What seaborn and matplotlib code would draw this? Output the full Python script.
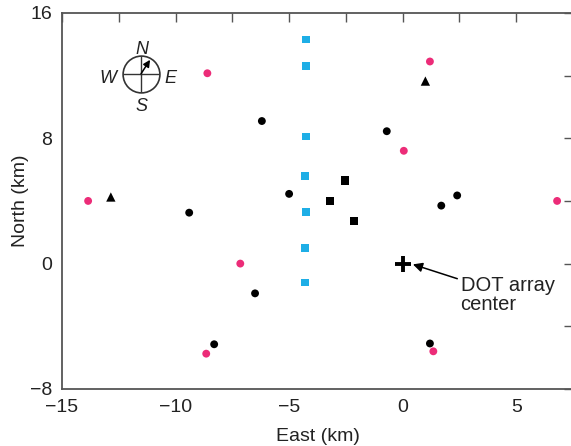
import numpy as np
import matplotlib
matplotlib.use("Agg")
import matplotlib.pyplot as plt
import seaborn as sns

# station positions (East, North) in km
cyan_x = [-4.25, -4.25, -4.25, -4.3, -4.25, -4.3, -4.3]
cyan_y = [14.3, 12.6, 8.1, 5.6, 3.3, 1.0, -1.2]

sq_x = [-2.55, -3.2, -2.15]
sq_y = [5.3, 4.0, 2.7]

tri_x = [1.0, -12.85]
tri_y = [11.65, 4.25]

pink_x = [-8.6, 1.2, 0.05, -13.85, 6.8, -7.15, -8.65, 1.35]
pink_y = [12.15, 12.9, 7.2, 4.0, 4.0, 0.0, -5.75, -5.6]

dot_x = [-6.2, -0.7, -5.0, -9.4, 1.7, 2.4, -6.5, -8.3, 1.2]
dot_y = [9.1, 8.45, 4.45, 3.25, 3.7, 4.35, -1.9, -5.15, -5.1]

center_x = [0.0]
center_y = [0.0]

sns.set_style("white")
plt.rcParams['font.family'] = ['Liberation Sans', 'DejaVu Sans']

fig = plt.figure(figsize=(5.71, 4.46), dpi=100)
ax = fig.add_axes([0.1086, 0.128, 0.8949, 0.843])

sns.scatterplot(x=cyan_x, y=cyan_y, marker='s', s=30, color='#1eaee6', edgecolor='none', ax=ax, zorder=3)
sns.scatterplot(x=sq_x, y=sq_y, marker='s', s=36, color='black', edgecolor='none', ax=ax, zorder=3)
sns.scatterplot(x=tri_x, y=tri_y, marker='^', s=45, color='black', edgecolor='none', ax=ax, zorder=3)
sns.scatterplot(x=pink_x, y=pink_y, marker='o', s=32, color='#ec2c78', edgecolor='none', ax=ax, zorder=3)
sns.scatterplot(x=dot_x, y=dot_y, marker='o', s=32, color='black', edgecolor='none', ax=ax, zorder=3)
ax.plot(center_x, center_y, marker='+', ms=11, mew=2.8, color='black', ls='none', zorder=4)

ax.annotate('DOT array\ncenter', xy=(0.45, -0.05), xytext=(2.55, -2.0),
            fontsize=14.5, va='center', ha='left', color='#222222', linespacing=1.05,
            arrowprops=dict(arrowstyle='-|>', color='black', lw=1.1,
                            mutation_scale=14, shrinkA=0, shrinkB=0))

# compass rose
cx, cy = -11.52, 12.12
ax.plot([cx], [cy], marker='o', ms=26.5, mfc='none', mec='#333333', mew=1.2, zorder=3)
ax.plot([cx], [cy], marker='+', ms=26.5, mec='#333333', mew=1.0, zorder=3)
ax.annotate('', xy=(cx, cy), xycoords='data', xytext=(6.5, 10), textcoords='offset points',
            arrowprops=dict(arrowstyle='<|-', color='black', lw=1.1, mutation_scale=10,
                            shrinkA=0, shrinkB=0))
for lab, dx, dy in [('N', 0.5, 17.5), ('S', 0, -23.5), ('W', -23.5, -3.5), ('E', 21, -3.5)]:
    ax.annotate(lab, xy=(cx, cy), xytext=(dx, dy), textcoords='offset points',
                ha='center', va='center', fontsize=13, style='italic', color='#222222')

ax.set_xlim(-15, 7.5)
ax.set_ylim(-8, 16)
ax.set_xticks(np.arange(-15, 7.6, 5))
ax.set_xticks(np.arange(-12.5, 7.6, 5), minor=True)
ax.set_yticks(np.arange(-8, 16.1, 8))
ax.set_yticks(np.arange(-4, 16.1, 8), minor=True)
ax.tick_params(which='both', direction='in', top=True, right=True, length=6.5,
               width=1.0, color='#555555', labelsize=14, labelcolor='#222222')
ax.tick_params(axis='x', pad=7)
ax.tick_params(axis='y', pad=7)
for sp in ax.spines.values():
    sp.set_color('#555555')
    sp.set_linewidth(1.3)

ax.set_xlabel('East (km)', fontsize=14, color='#222222', labelpad=9)
ax.set_ylabel('North (km)', fontsize=14, color='#222222', labelpad=1)

fig.savefig('out.png', dpi=100)
